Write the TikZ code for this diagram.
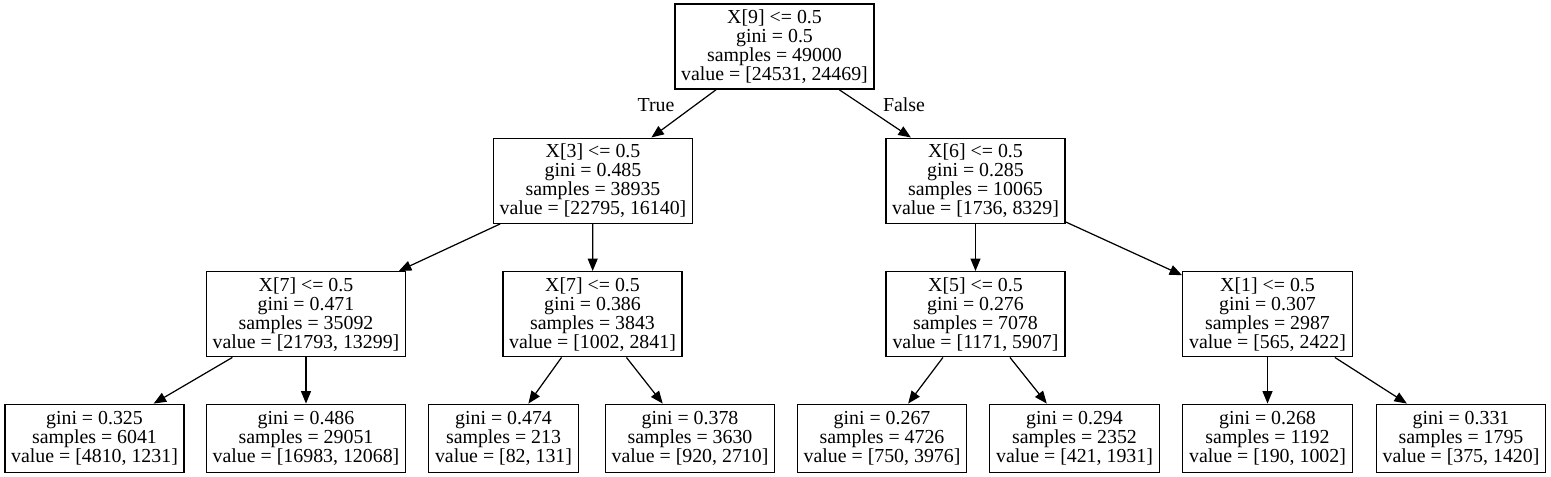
\documentclass[tikz,border=0pt]{standalone}
\usepackage{fontspec}
\setmainfont{Liberation Serif}
\usetikzlibrary{arrows.meta}

\begin{document}
\begin{tikzpicture}[scale=1.0,
    split/.style={draw, line width=0.8pt, align=center, inner xsep=3.6pt, inner ysep=0pt,
        minimum height=1.7cm, font=\fontsize{11.3}{10.8}\selectfont},
    leaf/.style={split, minimum height=1.36cm},
    edge/.style={-{Triangle[length=0.25cm,width=0.2cm]}, line width=0.7pt},
    branch/.style={anchor=base, inner sep=0pt, font=\fontsize{11.3}{10.8}\selectfont}]
    \useasboundingbox (0,0) rectangle (31.02,9.54);

    % Root
    \node[split] (root) at (15.49,8.61) {X[9] <= 0.5\\gini = 0.5\\samples = 49000\\value = [24531, 24469]};

    % Depth 1
    \node[split] (x3) at (11.86,5.925) {X[3] <= 0.5\\gini = 0.485\\samples = 38935\\value = [22795, 16140]};
    \node[split] (x6) at (19.51,5.925) {X[6] <= 0.5\\gini = 0.285\\samples = 10065\\value = [1736, 8329]};

    % Depth 2
    \node[split] (x7a) at (6.12,3.255) {X[7] <= 0.5\\gini = 0.471\\samples = 35092\\value = [21793, 13299]};
    \node[split] (x7b) at (11.85,3.255) {X[7] <= 0.5\\gini = 0.386\\samples = 3843\\value = [1002, 2841]};
    \node[split] (x5) at (19.51,3.255) {X[5] <= 0.5\\gini = 0.276\\samples = 7078\\value = [1171, 5907]};
    \node[split] (x1) at (25.35,3.255) {X[1] <= 0.5\\gini = 0.307\\samples = 2987\\value = [565, 2422]};

    % Leaves
    \node[leaf] (l1) at (1.89,0.774) {gini = 0.325\\samples = 6041\\value = [4810, 1231]};
    \node[leaf] (l2) at (6.12,0.774) {gini = 0.486\\samples = 29051\\value = [16983, 12068]};
    \node[leaf] (l3) at (10.07,0.774) {gini = 0.474\\samples = 213\\value = [82, 131]};
    \node[leaf] (l4) at (13.80,0.774) {gini = 0.378\\samples = 3630\\value = [920, 2710]};
    \node[leaf] (l5) at (17.64,0.774) {gini = 0.267\\samples = 4726\\value = [750, 3976]};
    \node[leaf] (l6) at (21.49,0.774) {gini = 0.294\\samples = 2352\\value = [421, 1931]};
    \node[leaf] (l7) at (25.35,0.774) {gini = 0.268\\samples = 1192\\value = [190, 1002]};
    \node[leaf] (l8) at (29.22,0.774) {gini = 0.331\\samples = 1795\\value = [375, 1420]};

    % Edges
    \draw[edge] (root) -- (x3);
    \draw[edge] (root) -- (x6);
    \draw[edge] (x3) -- (x7a);
    \draw[edge] (x3) -- (x7b);
    \draw[edge] (x6) -- (x5);
    \draw[edge] (x6) -- (x1);
    \draw[edge] (x7a) -- (l1);
    \draw[edge] (x7a) -- (l2);
    \draw[edge] (x7b) -- (l3);
    \draw[edge] (x7b) -- (l4);
    \draw[edge] (x5) -- (l5);
    \draw[edge] (x5) -- (l6);
    \draw[edge] (x1) -- (l7);
    \draw[edge] (x1) -- (l8);

    % Branch labels
    \node[branch] (ltrue) at (13.12,7.31) {True};
    \node[branch] (lfalse) at (18.08,7.31) {False};
\end{tikzpicture}
\end{document}
